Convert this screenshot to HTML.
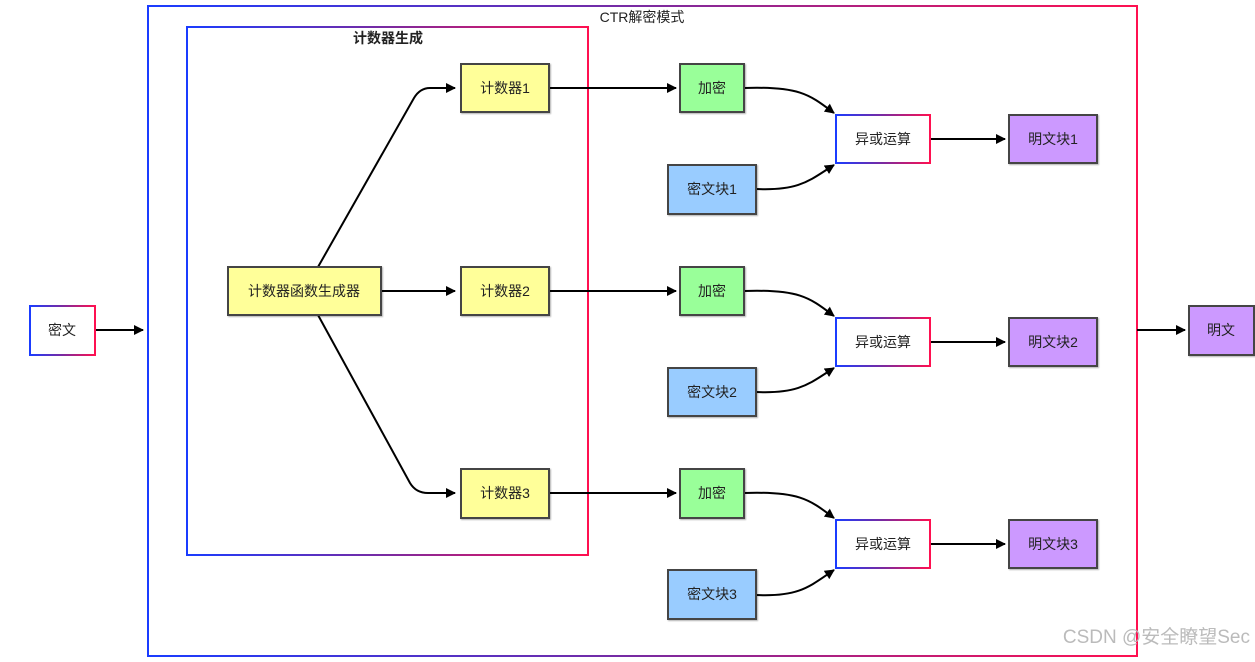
<!DOCTYPE html>
<html><head><meta charset="utf-8"><style>
body{margin:0;background:#fff;}
svg text{font-family:"Liberation Sans","Noto Sans CJK SC",sans-serif;font-size:14px;fill:#222;}
</style></head><body>
<svg width="1255" height="657" xmlns="http://www.w3.org/2000/svg">
<defs>
<linearGradient id="g" x1="0" y1="0" x2="1" y2="0"><stop offset="0" stop-color="#1a3cff"/><stop offset="0.5" stop-color="#7a2aa0"/><stop offset="1" stop-color="#ff1050"/></linearGradient>
<marker id="a" markerWidth="10" markerHeight="10" refX="9" refY="5" orient="auto" markerUnits="userSpaceOnUse"><path d="M0,0 L10,5 L0,10 z" fill="#000"/></marker>
<filter id="s"><feDropShadow dx="1" dy="1" stdDeviation="0.8" flood-opacity="0.3"/></filter>
</defs>
<rect x="148" y="6" width="989" height="650" fill="none" stroke="url(#g)" stroke-width="2"/>
<text x="642" y="22" text-anchor="middle">CTR解密模式</text>
<rect x="187" y="27" width="401" height="528" fill="none" stroke="url(#g)" stroke-width="2"/>
<text x="388" y="43" text-anchor="middle" style="font-weight:bold">计数器生成</text>

<g stroke="#000" stroke-width="2" fill="none">
<line x1="95" y1="330" x2="143" y2="330" marker-end="url(#a)"/>
<line x1="1137" y1="330" x2="1185" y2="330" marker-end="url(#a)"/>
<path d="M318,267 L414,98 Q420,88 430,88 L455,88" marker-end="url(#a)"/>
<path d="M318,315 L410,483 Q416,493 428,493 L455,493" marker-end="url(#a)"/>
<line x1="381" y1="291" x2="455" y2="291" marker-end="url(#a)"/>
<line x1="549" y1="88" x2="676" y2="88" marker-end="url(#a)"/>
<line x1="549" y1="291" x2="676" y2="291" marker-end="url(#a)"/>
<line x1="549" y1="493" x2="676" y2="493" marker-end="url(#a)"/>
<path d="M744,88 C800,86 810,95 834,113" marker-end="url(#a)"/>
<path d="M756,189 C800,191 810,180 834,165" marker-end="url(#a)"/>
<path d="M744,291 C800,289 810,298 834,316" marker-end="url(#a)"/>
<path d="M756,392 C800,394 810,383 834,368" marker-end="url(#a)"/>
<path d="M744,493 C800,491 810,500 834,518" marker-end="url(#a)"/>
<path d="M756,595 C800,597 810,586 834,570" marker-end="url(#a)"/>
<line x1="930" y1="139" x2="1005" y2="139" marker-end="url(#a)"/>
<line x1="930" y1="342" x2="1005" y2="342" marker-end="url(#a)"/>
<line x1="930" y1="544" x2="1005" y2="544" marker-end="url(#a)"/>
</g>

<g stroke="#444" stroke-width="2" filter="url(#s)">
<rect x="228" y="267" width="153" height="48" fill="#ffff99"/>
<rect x="461" y="64" width="88" height="48" fill="#ffff99"/>
<rect x="461" y="267" width="88" height="48" fill="#ffff99"/>
<rect x="461" y="469" width="88" height="49" fill="#ffff99"/>
<rect x="680" y="64" width="64" height="48" fill="#99ff99"/>
<rect x="680" y="267" width="64" height="48" fill="#99ff99"/>
<rect x="680" y="469" width="64" height="49" fill="#99ff99"/>
<rect x="668" y="165" width="88" height="49" fill="#99ccff"/>
<rect x="668" y="368" width="88" height="48" fill="#99ccff"/>
<rect x="668" y="570" width="88" height="49" fill="#99ccff"/>
<rect x="1009" y="115" width="88" height="48" fill="#cc99ff"/>
<rect x="1009" y="318" width="88" height="48" fill="#cc99ff"/>
<rect x="1009" y="520" width="88" height="48" fill="#cc99ff"/>
<rect x="1189" y="306" width="65" height="49" fill="#cc99ff"/>
</g>
<g fill="#fff" stroke="url(#g)" stroke-width="2">
<rect x="30" y="306" width="65" height="49"/>
<rect x="836" y="115" width="94" height="48"/>
<rect x="836" y="318" width="94" height="48"/>
<rect x="836" y="520" width="94" height="48"/>
</g>
<g text-anchor="middle">
<text x="62" y="335">密文</text>
<text x="1221" y="335">明文</text>
<text x="304" y="296">计数器函数生成器</text>
<text x="505" y="93">计数器1</text>
<text x="505" y="296">计数器2</text>
<text x="505" y="498">计数器3</text>
<text x="712" y="93">加密</text>
<text x="712" y="296">加密</text>
<text x="712" y="498">加密</text>
<text x="712" y="194">密文块1</text>
<text x="712" y="397">密文块2</text>
<text x="712" y="599">密文块3</text>
<text x="883" y="144">异或运算</text>
<text x="883" y="347">异或运算</text>
<text x="883" y="549">异或运算</text>
<text x="1053" y="144">明文块1</text>
<text x="1053" y="347">明文块2</text>
<text x="1053" y="549">明文块3</text>
</g>
<text x="1250" y="643" text-anchor="end" style="font-size:19px;fill:#bbb">CSDN @安全瞭望Sec</text>
</svg>
</body></html>
